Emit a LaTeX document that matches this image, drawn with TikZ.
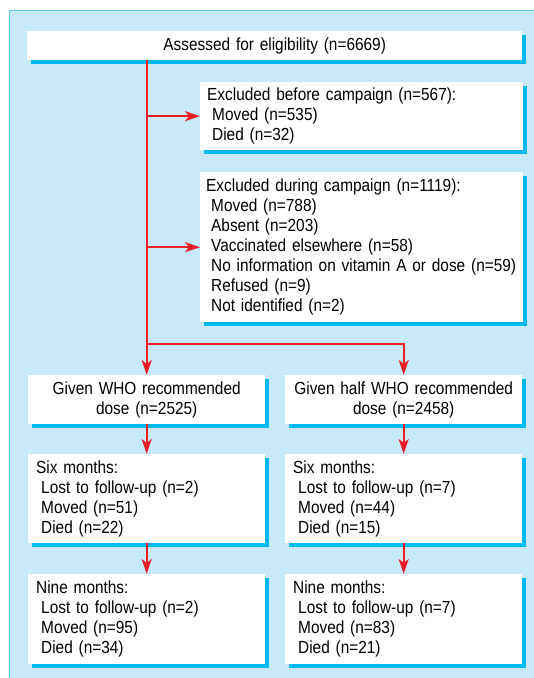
\documentclass[tikz,border=0pt]{standalone}
\usepackage{fontspec}
\setmainfont[FakeStretch=0.88]{Liberation Sans}
\usetikzlibrary{arrows.meta,shadows}

\definecolor{panelblue}{RGB}{200,233,248}
\definecolor{edgeblue}{RGB}{90,200,240}
\definecolor{shadowblue}{RGB}{0,185,240}
\definecolor{arrowred}{RGB}{232,30,40}

\newcommand{\ind}{\hspace*{5bp}}

\tikzset{
  flowbox/.style={fill=white, anchor=north west, inner xsep=7bp, inner ysep=0bp,
    drop shadow={shadow xshift=4bp, shadow yshift=-4bp, fill=shadowblue, opacity=1},
    font=\fontsize{17.5bp}{20bp}\selectfont},
  flowline/.style={arrowred, line width=2bp, -{Stealth[length=15bp,width=10bp,inset=4bp]}}
}

\begin{document}
\begin{tikzpicture}[x=1bp,y=-1bp]
    \useasboundingbox (0,0) rectangle (534,678);
    % Panel %
    \fill[panelblue] (9,11) rectangle (534,678);
    \draw[edgeblue, line width=1bp] (9,678) -- (9,11) -- (534,11);

    % Boxes %
    \node[flowbox, align=center, text width=481bp, minimum height=29bp] (assess) at (27,31)
        {Assessed for eligibility (n=6669)};
    \node[flowbox, align=left, text width=309bp, minimum height=68bp] (before) at (200,82)
        {Excluded before campaign (n=567):\\\ind Moved (n=535)\\\ind Died (n=32)};
    \node[flowbox, align=left, inner xsep=6bp, text width=311bp, minimum height=150bp] (during) at (200,172)
        {Excluded during campaign (n=1119):\\\ind Moved (n=788)\\\ind Absent (n=203)\\\ind Vaccinated elsewhere (n=58)\\\ind \mbox{No information on vitamin A or dose (n=59)}\\\ind Refused (n=9)\\\ind Not identified (n=2)};
    \node[flowbox, align=center, text width=223bp, minimum height=49bp] (givenfull) at (28,375)
        {Given WHO recommended\\dose (n=2525)};
    \node[flowbox, align=center, text width=223bp, minimum height=49bp] (givenhalf) at (285,375)
        {Given half WHO recommended\\dose (n=2458)};
    \node[flowbox, align=left, inner xsep=8bp, text width=221bp, minimum height=89bp] (sixfull) at (28,454)
        {Six months:\\\ind Lost to follow-up (n=2)\\\ind Moved (n=51)\\\ind Died (n=22)};
    \node[flowbox, align=left, inner xsep=8bp, text width=221bp, minimum height=89bp] (sixhalf) at (285,454)
        {Six months:\\\ind Lost to follow-up (n=7)\\\ind Moved (n=44)\\\ind Died (n=15)};
    \node[flowbox, align=left, inner xsep=8bp, text width=221bp, minimum height=90bp] (ninefull) at (28,574)
        {Nine months:\\\ind Lost to follow-up (n=2)\\\ind Moved (n=95)\\\ind Died (n=34)};
    \node[flowbox, align=left, inner xsep=8bp, text width=221bp, minimum height=90bp] (ninehalf) at (285,574)
        {Nine months:\\\ind Lost to follow-up (n=7)\\\ind Moved (n=83)\\\ind Died (n=21)};

    % Arrows %
    \coordinate (split) at (givenfull.north |- 0,344);
    \draw[flowline] (givenfull.north |- assess.south) -- (givenfull.north);
    \draw[flowline] (split |- before.west) -- (before.west);
    \draw[flowline] (split |- during.west) -- (during.west);
    \draw[flowline] (split) -| (givenhalf.north);
    \draw[flowline] (givenfull) -- (sixfull);
    \draw[flowline] (givenhalf) -- (sixhalf);
    \draw[flowline] (sixfull) -- (ninefull);
    \draw[flowline] (sixhalf) -- (ninehalf);
\end{tikzpicture}
\end{document}
